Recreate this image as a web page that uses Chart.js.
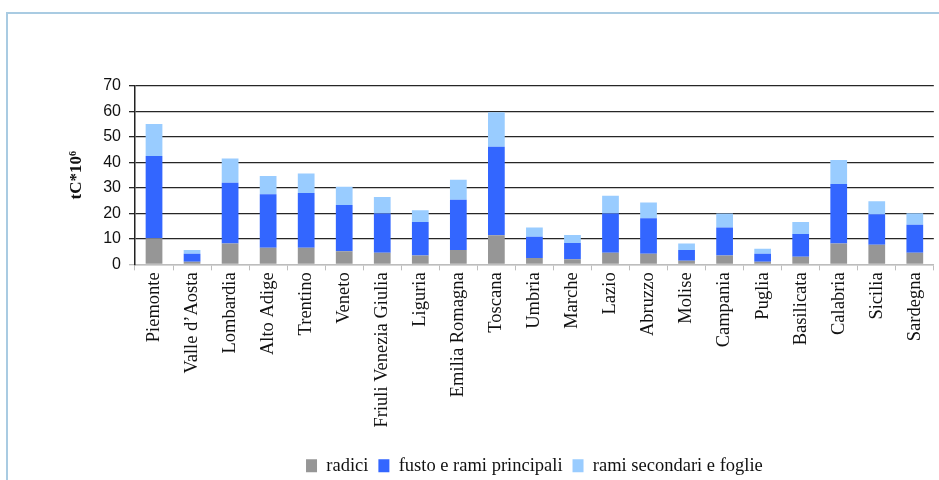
<!DOCTYPE html>
<html>
<head>
<meta charset="utf-8">
<script src="https://cdn.jsdelivr.net/npm/chart.js@4.4.0/dist/chart.umd.min.js"></script>
<style>
  html, body { margin: 0; padding: 0; background: #fff; overflow: hidden; }
  #frame {
    position: absolute; left: 6px; top: 12px; width: 1000px; height: 1000px;
    border-left: 2px solid #a9cbe2; border-top: 2px solid #a9cbe2;
  }
  #box { position: absolute; left: 0; top: 0; width: 939px; height: 480px; }
</style>
</head>
<body>
<div id="frame"></div>
<div id="box"><canvas id="myChart" width="939" height="480"></canvas></div>
<script>
// regioni e stock di carbonio (tC*10^6)
const regioni = ['Piemonte', "Valle d\u2019Aosta", 'Lombardia', 'Alto Adige', 'Trentino', 'Veneto',
    'Friuli Venezia Giulia', 'Liguria', 'Emilia Romagna', 'Toscana', 'Umbria', 'Marche', 'Lazio',
    'Abruzzo', 'Molise', 'Campania', 'Puglia', 'Basilicata', 'Calabria', 'Sicilia', 'Sardegna'];
const radici = [10.2, 1.0, 8.2, 6.5, 6.5, 5.1, 4.6, 3.5, 5.6, 11.4, 2.5, 2.0, 4.6, 4.2, 1.4, 3.5, 1.0, 3.0, 8.2, 7.7, 4.6];
const fusto = [32.3, 3.2, 23.8, 21.0, 21.5, 18.2, 15.4, 13.1, 19.8, 34.8, 8.3, 6.4, 15.4, 13.9, 4.2, 11.0, 3.2, 8.9, 23.3, 12.0, 10.9];
const ramiSecondari = [12.6, 1.4, 9.5, 7.2, 7.7, 7.2, 6.4, 4.6, 7.8, 13.5, 3.7, 3.1, 6.9, 6.2, 2.6, 5.5, 1.9, 4.7, 9.5, 5.1, 4.6];
const yTicks = [0, 10, 20, 30, 40, 50, 60, 70];

const serif = "'Liberation Serif', 'Times New Roman', serif";
const sans = "'Liberation Sans', Arial, sans-serif";

const ctx = document.getElementById('myChart').getContext('2d');
const myChart = new Chart(ctx, {
    type: 'bar',
    data: {
        labels: regioni,
        datasets: [
            { label: 'radici', data: radici, backgroundColor: '#969696' },
            { label: 'fusto e rami principali', data: fusto, backgroundColor: '#3366ff' },
            { label: 'rami secondari e foglie', data: ramiSecondari, backgroundColor: '#99ccff' }
        ]
    },
    options: {
        responsive: false,
        animation: false,
        devicePixelRatio: 1,
        layout: { padding: { top: 86, left: 66, right: 0, bottom: -5 } },
        datasets: { bar: { categoryPercentage: 1, barPercentage: 0.44 } },
        plugins: {
            tooltip: { enabled: false },
            legend: {
                position: 'bottom',
                fullSize: false,
                labels: {
                    boxWidth: 11,
                    boxHeight: 13,
                    padding: 10,
                    color: '#111',
                    font: { family: serif, size: 18.5 }
                }
            }
        },
        scales: {
            x: {
                stacked: true,
                afterFit: (scale) => { scale.height += 17; },
                border: { color: '#bdbdbd', width: 1.5 },
                grid: { drawOnChartArea: false, drawTicks: true, tickLength: 6, color: '#bdbdbd', offset: true },
                ticks: {
                    autoSkip: false, minRotation: 90, maxRotation: 90, padding: 2,
                    color: '#111', font: { family: serif, size: 18.5 }
                }
            },
            y: {
                stacked: true,
                min: 0,
                max: 70,
                afterFit: (scale) => { scale.width = 69; },
                afterBuildTicks: (scale) => { scale.ticks = yTicks.map(v => ({ value: v })); },
                border: { color: '#222', width: 1.5 },
                grid: {
                    color: (c) => (c.tick && c.tick.value === 0) ? '#bdbdbd' : '#262626',
                    lineWidth: 1.3,
                    tickLength: 6
                },
                ticks: { padding: 8, color: '#111', font: { family: sans, size: 16 } },
                title: {
                    display: true,
                    text: 'tC*10\u2076',
                    color: '#111',
                    padding: 0,
                    font: { family: serif, size: 17, weight: 'bold' }
                }
            }
        }
    }
});
</script>
</body>
</html>
